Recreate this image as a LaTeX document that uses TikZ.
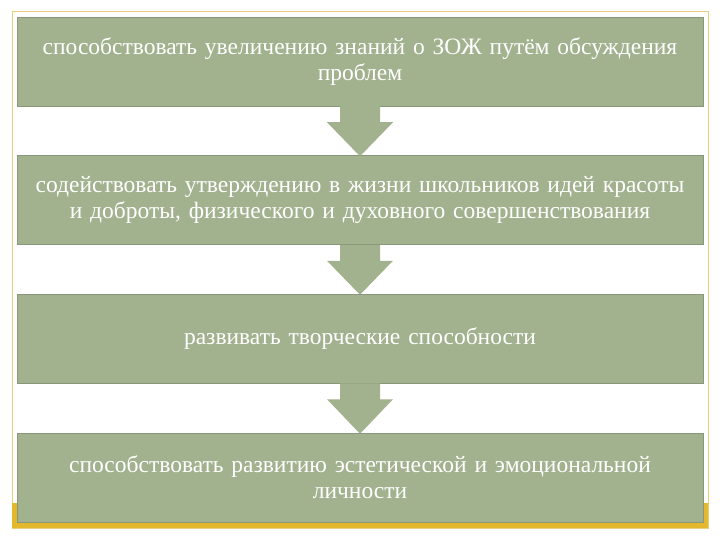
\documentclass[tikz,border=0pt]{standalone}
\usepackage{fontspec}
\setmainfont{Liberation Serif}
\definecolor{boxg}{HTML}{A2B18E}
\definecolor{gold}{HTML}{E3B82C}
\definecolor{frame}{HTML}{E8CF80}
\tikzset{
  stepbox/.style={fill=boxg, draw=boxg!85!black, line width=0.5pt, minimum width=686pt, minimum height=89pt, text width=680pt, align=center, inner sep=0pt, text=white, font=\fontsize{23.5}{26}\selectfont},
  arrowshape/.style={fill=boxg, draw=none}
}
\begin{document}
\begin{tikzpicture}[x=1pt,y=-1pt]
\useasboundingbox (0,0) rectangle (720,540);
\fill[white] (0,0) rectangle (720,540);
\draw[frame, line width=1pt] (12,12) rectangle (708,528);
\fill[gold] (12,503) rectangle (708,528);
\fill[white!95!yellow] (17,503) rectangle (703,522);
\node[stepbox] (b1) at (360,61.5) {способствовать увеличению знаний о ЗОЖ путём обсуждения\\проблем};
\node[stepbox] (b2) at (360,200) {содействовать утверждению в жизни школьников идей красоты\\и доброты, физического и духовного совершенствования};
\node[stepbox] (b3) at (360,338.5) {развивать творческие способности};
\node[stepbox] (b4) at (360,477.5) {способствовать развитию эстетической и эмоциональной\\личности};
\foreach \a/\b in {b1/b2,b2/b3,b3/b4}{
  \fill[boxg] ([xshift=-20pt]\a.south) -- ([xshift=20pt]\a.south) -- ([xshift=20pt,yshift=-16pt]\a.south) -- ([xshift=33pt,yshift=-16pt]\a.south) -- ([yshift=-1pt]\b.north) -- ([xshift=-33pt,yshift=-16pt]\a.south) -- ([xshift=-20pt,yshift=-16pt]\a.south) -- cycle;
}
\end{tikzpicture}
\end{document}
